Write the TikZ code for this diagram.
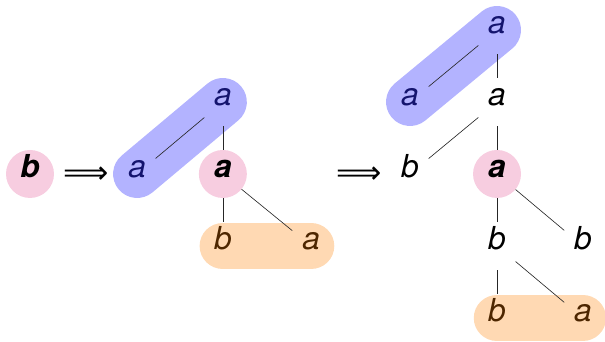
\documentclass[tikz,border=0pt]{standalone}
\usepackage{fontspec}
\setmainfont{TeX Gyre Heros}
\newfontfamily\arrowfont{DejaVu Sans}
\usepackage{tikz}
\usetikzlibrary{backgrounds}
\definecolor{pinkfill}{RGB}{247,205,224}
\definecolor{bluefill}{RGB}{179,179,255}
\definecolor{orangefill}{RGB}{255,217,179}
\definecolor{bluetext}{RGB}{20,20,110}
\definecolor{orangetext}{RGB}{77,38,0}

\begin{document}
\begin{tikzpicture}[font=\fontsize{30}{36}\selectfont\itshape,
  sym/.style={circle,minimum size=1.6cm,inner sep=0pt,text height=0.72em,text depth=0pt},
  hot/.style={sym,fill=pinkfill,font=\fontsize{30}{36}\selectfont\bfseries\itshape},
  inblue/.style={sym,text=bluetext},
  inorange/.style={sym,text=orangetext},
  derive/.style={inner sep=0pt,font=\fontsize{30}{36}\selectfont\arrowfont},
  edge/.style={draw=black!85,line width=0.6pt},
  hlblue/.style={bluefill,line width=1.6cm,line cap=round},
  hlorange/.style={orangefill,line width=1.55cm,line cap=round}]
  \useasboundingbox (0,0) rectangle (20.17,-11.4);
  % start symbol
  \node[hot] (b0) at (1.0,-5.8) {b};
  \node[derive] (ar1) at (2.87,-5.85) {⟹};
  % first step
  \node[inblue] (t1r) at (7.43,-3.4) {a};
  \node[inblue] (t1l) at (4.57,-5.8) {a};
  \node[hot] (t1m) at (7.43,-5.8) {a};
  \node[inorange] (t1b) at (7.43,-8.2) {b};
  \node[inorange] (t1a) at (10.37,-8.2) {a};
  \draw[edge] (t1r) -- (t1l);
  \draw[edge] (t1r) -- (t1m);
  \draw[edge] (t1m) -- (t1b);
  \draw[edge] (t1m) -- (t1a);
  \node[derive] (ar2) at (11.97,-5.85) {⟹};
  % second step
  \node[inblue] (t2r) at (16.57,-1.0) {a};
  \node[inblue] (t2l) at (13.67,-3.4) {a};
  \node[sym] (t2m) at (16.57,-3.4) {a};
  \node[sym] (t2b) at (13.67,-5.8) {b};
  \node[hot] (t2h) at (16.57,-5.8) {a};
  \node[sym] (t2c) at (16.57,-8.2) {b};
  \node[sym] (t2d) at (19.43,-8.2) {b};
  \node[inorange] (t2e) at (16.57,-10.6) {b};
  \node[inorange] (t2f) at (19.43,-10.6) {a};
  \foreach \p/\c in {t2r/t2l,t2r/t2m,t2m/t2b,t2m/t2h,t2h/t2c,t2h/t2d,t2c/t2e,t2c/t2f}
    { \draw[edge] (\p) -- (\c); }
  % highlighted subtrees
  \begin{pgfonlayer}{background}
    \draw[hlblue] (t1l.center) -- (t1r.center);
    \draw[hlorange] (t1b.center) -- (t1a.center);
    \draw[hlblue] (t2l.center) -- (t2r.center);
    \draw[hlorange] (t2e.center) -- (t2f.center);
  \end{pgfonlayer}
\end{tikzpicture}
\end{document}
